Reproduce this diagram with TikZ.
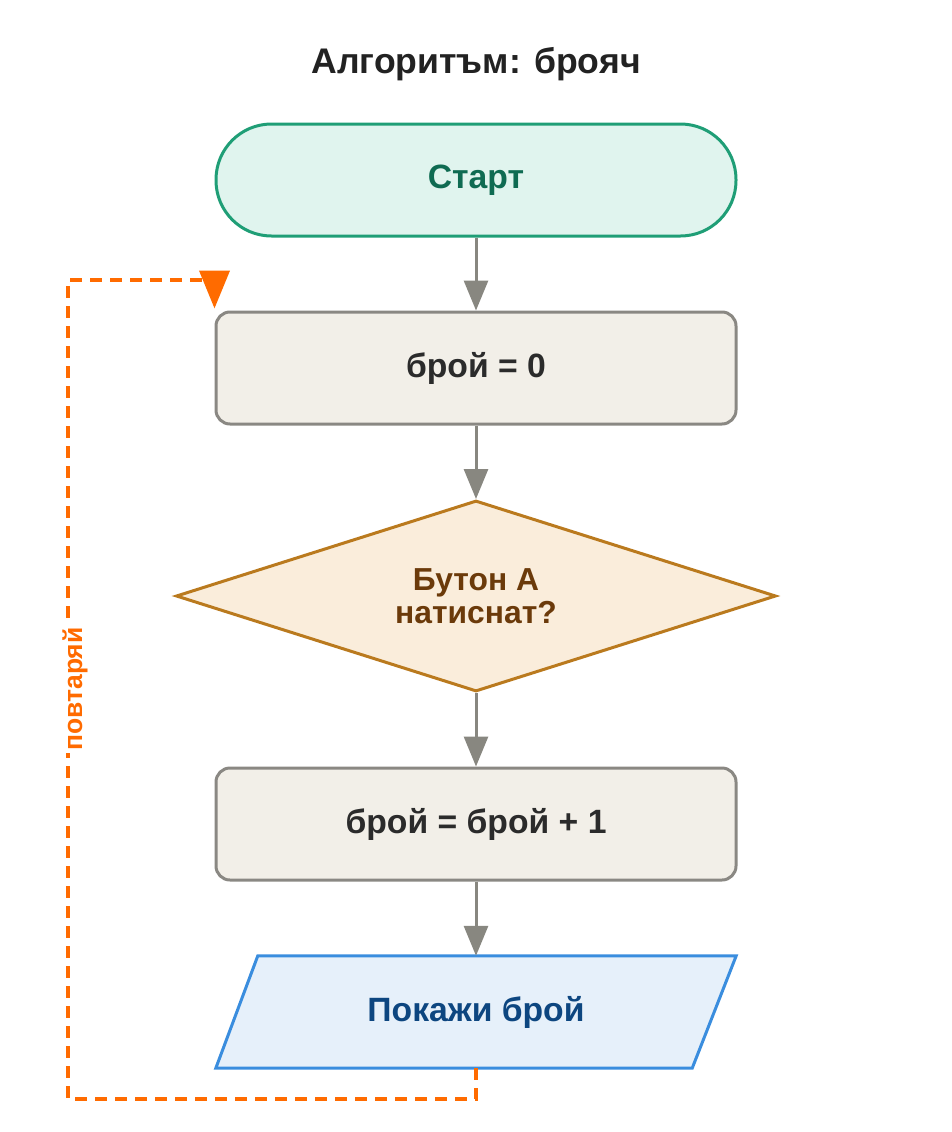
\documentclass[tikz,border=0pt]{standalone}
\usepackage{fontspec}
\setmainfont{Liberation Sans}
\usetikzlibrary{shapes.geometric,arrows.meta,backgrounds}
\definecolor{stfill}{HTML}{E0F4EE}
\definecolor{stdraw}{HTML}{1F9E76}
\definecolor{sttext}{HTML}{0F6B52}
\definecolor{prfill}{HTML}{F2EFE8}
\definecolor{prdraw}{HTML}{8A8883}
\definecolor{prtext}{HTML}{2B2B2B}
\definecolor{dcfill}{HTML}{FAEDDB}
\definecolor{dcdraw}{HTML}{BA7A1E}
\definecolor{dctext}{HTML}{6B3A0A}
\definecolor{iofill}{HTML}{E6F0FA}
\definecolor{iodraw}{HTML}{3A8DDE}
\definecolor{iotext}{HTML}{0D4680}
\definecolor{loopc}{HTML}{FF6B00}
\definecolor{arrc}{HTML}{888780}
\definecolor{titlec}{HTML}{222222}
\tikzset{
  startbox/.style={rectangle, rounded corners=55.5pt, minimum width=520pt, minimum height=112pt, fill=stfill, draw=stdraw, line width=3pt, text=sttext, font=\fontsize{33.7}{38}\selectfont\bfseries, inner sep=0pt},
  procbox/.style={rectangle, rounded corners=14pt, minimum width=520pt, minimum height=112pt, fill=prfill, draw=prdraw, line width=3pt, text=prtext, font=\fontsize{33.7}{38}\selectfont\bfseries, inner sep=0pt},
  decbox/.style={diamond, aspect=3.14, minimum width=600pt, minimum height=191pt, fill=dcfill, draw=dcdraw, line width=3pt, text=dctext, font=\fontsize{31.8}{33}\selectfont\bfseries, inner sep=0pt, align=center},
  iobox/.style={rectangle, minimum width=520pt, minimum height=112pt, text=iotext, font=\fontsize{33.7}{38}\selectfont\bfseries, inner sep=0pt},
  ioshape/.style={fill=iofill, draw=iodraw, line width=3pt},
  flow/.style={draw=arrc, line width=3pt, -{Triangle[length=30pt,width=24pt]}},
  loopline/.style={draw=loopc, line width=4pt, dash pattern=on 12pt off 8pt, -{Triangle[length=38pt,width=30pt]}},
  looplabel/.style={text=loopc, font=\fontsize{26.5}{30}\selectfont\bfseries, fill=white, inner sep=2pt, rotate=90},
  titlestyle/.style={text=titlec, font=\fontsize{35.6}{40}\selectfont\bfseries}
}
\begin{document}
\begin{tikzpicture}[x=1pt,y=1pt]
\useasboundingbox (0,0) rectangle (952,-1132);
\node[titlestyle] (title) at (476,-64) {Алгоритъм: брояч};
\node[startbox] (start) at (476,-180) {Старт};
\node[procbox] (p1) at (476,-368) {брой = 0};
\node[decbox] (dec) at (476,-596) {Бутон А\\натиснат?};
\node[procbox] (p2) at (476,-824) {брой = брой + 1};
\node[iobox] (io) at (476,-1012) {Покажи брой};
\begin{scope}[on background layer]
\draw[ioshape] (io.south west) -- ([xshift=42pt]io.north west) -- (io.north east) -- ([xshift=-44pt]io.south east) -- cycle;
\end{scope}
\coordinate (lb) at (68,-1099);
\coordinate (lt) at (68,-280);
\draw[flow] (start) -- (p1);
\draw[flow] (p1) -- (dec);
\draw[flow] (dec) -- (p2);
\draw[flow] (p2) -- (io);
\draw[loopline] (io.south) -- (io.south |- lb) -- (lb) -- (lt) -- (lt -| p1.west) -- ([yshift=2pt]p1.north west);
\node[looplabel] (lbl) at (75,-689) {повтаряй};
\end{tikzpicture}
\end{document}
